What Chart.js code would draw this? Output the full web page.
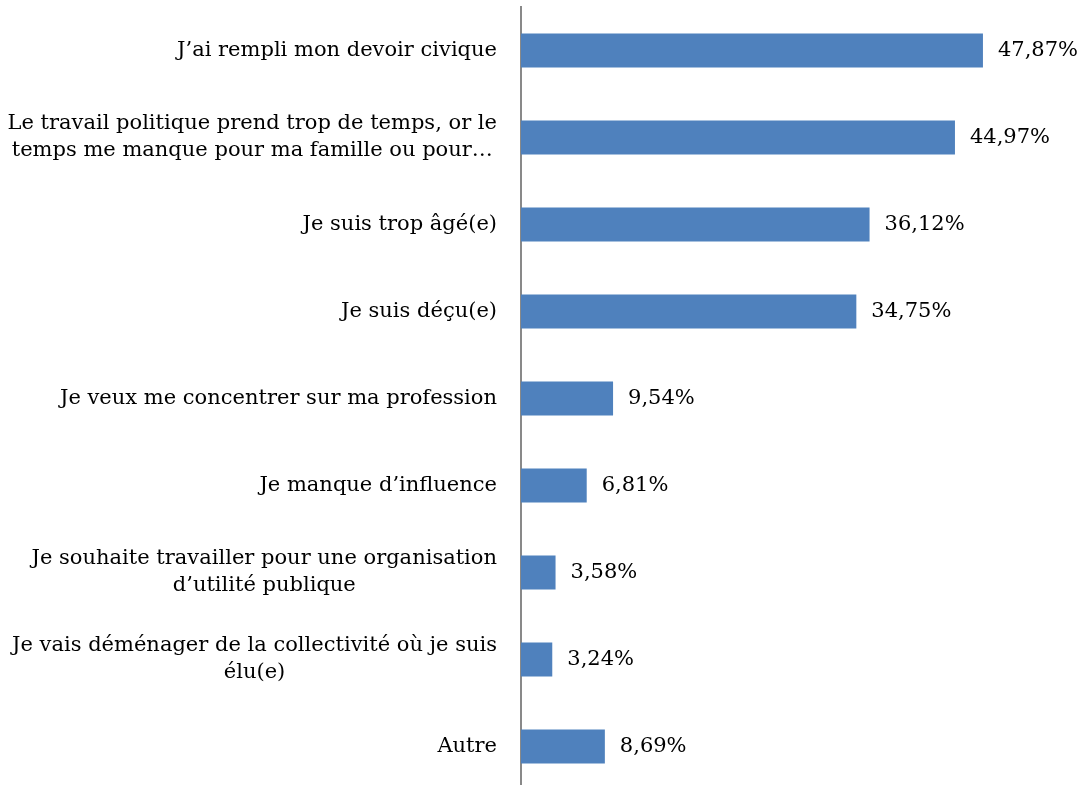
<!DOCTYPE html>
<html>
<head>
<meta charset="utf-8">
<script src="https://cdn.jsdelivr.net/npm/chart.js@4"></script>
<style>
  html, body { margin: 0; padding: 0; background: #fff; overflow: hidden; }
</style>
</head>
<body>
<canvas id="chart" width="1085" height="790"></canvas>
<script>
const categories = [
    ["J\u2019ai rempli mon devoir civique"],
    ["Le travail politique prend trop de temps, or le", "temps me manque pour ma famille ou pour\u2026"],
    ["Je suis trop âgé(e)"],
    ["Je suis déçu(e)"],
    ["Je veux me concentrer sur ma profession"],
    ["Je manque d\u2019influence"],
    ["Je souhaite travailler pour une organisation", "d\u2019utilité publique"],
    ["Je vais déménager de la collectivité où je suis", "élu(e)"],
    ["Autre"]
];
const values = [47.87, 44.97, 36.12, 34.75, 9.54, 6.81, 3.58, 3.24, 8.69];

const FONT = '21px "DejaVu Serif", serif';
const LINE_HEIGHT = 27;
const LABEL_RIGHT = 497;

const formatPct = (v) => v.toFixed(2).replace('.', ',') + '%';

// draws category text (centred block, right edge fixed) and value labels
const labelPlugin = {
    id: 'labelPlugin',
    afterDatasetsDraw(chart) {
        const ctx = chart.ctx;
        const meta = chart.getDatasetMeta(0);
        ctx.save();
        ctx.font = FONT;
        ctx.fillStyle = '#000';
        ctx.textBaseline = 'middle';
        meta.data.forEach((bar, i) => {
            ctx.textAlign = 'left';
            ctx.fillText(formatPct(values[i]), bar.x + 15, bar.y);

            const lines = categories[i];
            const w = Math.max(...lines.map(l => ctx.measureText(l).width));
            const cx = LABEL_RIGHT - w / 2;
            const y0 = bar.y - (lines.length - 1) * LINE_HEIGHT / 2;
            ctx.textAlign = 'center';
            lines.forEach((l, j) => ctx.fillText(l, cx, y0 + j * LINE_HEIGHT));
        });
        ctx.restore();
    }
};

new Chart(document.getElementById('chart'), {
    type: 'bar',
    data: {
        labels: categories,
        datasets: [{
            data: values,
            backgroundColor: '#4F81BD',
            borderWidth: 0,
            categoryPercentage: 1,
            barPercentage: 0.39
        }]
    },
    options: {
        indexAxis: 'y',
        responsive: false,
        animation: false,
        devicePixelRatio: 1,
        layout: { padding: { top: 7, right: 81.5, bottom: 0, left: 0 } },
        plugins: {
            legend: { display: false },
            tooltip: { enabled: false }
        },
        scales: {
            x: {
                display: false,
                min: 0,
                max: 50
            },
            y: {
                grid: { display: false, drawTicks: false },
                border: { display: true, color: '#898989', width: 2 },
                ticks: { display: false },
                afterFit: (scale) => { scale.width = 521; }
            }
        }
    },
    plugins: [labelPlugin]
});
</script>
</body>
</html>
